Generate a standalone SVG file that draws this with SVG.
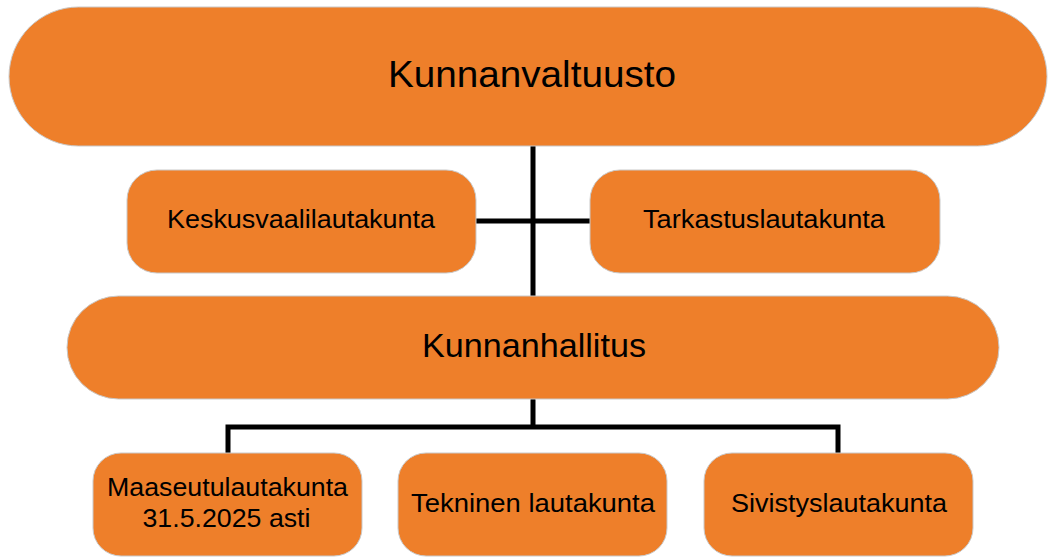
<svg xmlns="http://www.w3.org/2000/svg" width="1049" height="558" viewBox="0 0 1049 558">
  <style>
    .box { fill: #EE7F2A; stroke: #C9C9C9; stroke-width: 1; }
    .t { font-family: "Liberation Sans", Arial, sans-serif; fill: #000; text-anchor: middle; }
    .line { stroke: #000; stroke-width: 5; fill: none; stroke-linecap: round; stroke-linejoin: miter; }
  </style>
  <rect width="1049" height="558" fill="#fff"/>
  <g id="connectors">
    <line class="line" x1="533" y1="146" x2="533" y2="296"/>
    <line class="line" x1="476" y1="221" x2="590" y2="221"/>
    <path class="line" d="M533 400 V427 M228 453 V427 H838 V453"/>
  </g>
  <g id="kunnanvaltuusto">
    <rect class="box" x="9" y="7" width="1038" height="139" rx="69.5"/>
    <text class="t" x="532" y="87" font-size="37" textLength="288" lengthAdjust="spacingAndGlyphs">Kunnanvaltuusto</text>
  </g>
  <g id="keskusvaalilautakunta">
    <rect class="box" x="127" y="170" width="349" height="103" rx="30"/>
    <text class="t" x="301" y="228" font-size="26.5" textLength="268" lengthAdjust="spacingAndGlyphs">Keskusvaalilautakunta</text>
  </g>
  <g id="tarkastuslautakunta">
    <rect class="box" x="590" y="170" width="350" height="103" rx="30"/>
    <text class="t" x="764" y="228" font-size="26.5" textLength="242" lengthAdjust="spacingAndGlyphs">Tarkastuslautakunta</text>
  </g>
  <g id="kunnanhallitus">
    <rect class="box" x="67" y="296" width="932" height="103" rx="51.5"/>
    <text class="t" x="534" y="357" font-size="33" textLength="224" lengthAdjust="spacingAndGlyphs">Kunnanhallitus</text>
  </g>
  <g id="maaseutulautakunta">
    <rect class="box" x="93" y="453" width="269" height="103" rx="28"/>
    <text class="t" x="227.5" y="496" font-size="26.5" textLength="241" lengthAdjust="spacingAndGlyphs">Maaseutulautakunta</text>
    <text class="t" x="226.5" y="527" font-size="26.5" textLength="168" lengthAdjust="spacingAndGlyphs">31.5.2025 asti</text>
  </g>
  <g id="tekninen">
    <rect class="box" x="398" y="453" width="269" height="103" rx="28"/>
    <text class="t" x="533" y="512" font-size="26.5" textLength="244" lengthAdjust="spacingAndGlyphs">Tekninen lautakunta</text>
  </g>
  <g id="sivistyslautakunta">
    <rect class="box" x="704" y="453" width="269" height="103" rx="28"/>
    <text class="t" x="839" y="512" font-size="26.5" textLength="216" lengthAdjust="spacingAndGlyphs">Sivistyslautakunta</text>
  </g>
</svg>
